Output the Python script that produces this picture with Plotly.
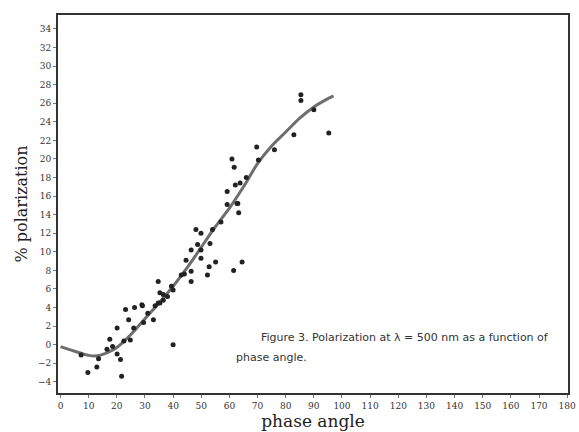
import plotly.graph_objects as go

# Observed polarization measurements (phase angle in deg, % polarization)
obs_angle = [7.3, 9.7, 12.9, 13.5, 16.5, 17.5, 20.1, 20.1, 21.3, 21.7, 22.5, 23.1, 24.2, 24.8,
             26.3, 29.1, 28.9, 29.5, 33.0, 33.6, 34.7, 34.7, 35.3, 35.3, 36.5, 36.5, 39.4, 40.0,
             40.0, 42.9, 44.6, 46.4, 46.4, 46.4, 48.1, 48.7, 49.9, 49.9, 49.9, 52.2, 52.8, 53.1,
             54.0, 55.1, 59.2, 59.2, 60.9, 61.5, 61.7, 62.1, 62.7, 63.0, 63.3, 63.8, 64.5, 69.7,
             70.3, 82.9, 85.4, 85.4, 95.3, 18.5, 26.0, 31.0, 38.0, 44.0, 57.0, 66.0, 76.0, 90.0]
obs_pol = [-1.1, -3.0, -2.4, -1.5, -0.5, 0.6, 1.8, -1.0, -1.6, -3.4, 0.4, 3.8, 2.7, 0.5,
           4.0, 4.2, 4.3, 2.4, 2.7, 4.2, 6.8, 4.5, 4.5, 5.6, 5.4, 4.8, 6.3, 0.0,
           5.9, 7.5, 9.1, 6.8, 7.9, 10.2, 12.4, 10.8, 9.3, 12.0, 10.2, 7.5, 8.4, 10.9,
           12.4, 8.9, 15.1, 16.5, 20.0, 8.0, 19.1, 17.2, 15.2, 15.2, 14.2, 17.4, 8.9, 21.3,
           19.9, 22.6, 26.9, 26.3, 22.8, -0.2, 1.8, 3.4, 5.2, 7.6, 13.2, 18.0, 21.0, 25.3]

# Fitted curve
fit_angle = [0, 5, 10, 13, 17, 20, 25, 30, 35, 40, 45, 50, 55, 60, 65, 70, 75, 80, 85, 90, 95, 97]
fit_pol = [-0.2, -0.7, -1.15, -1.2, -0.8, -0.3, 1.1, 2.8, 4.5, 6.3, 8.3, 10.5, 12.7, 14.7,
           17.0, 19.5, 21.4, 22.9, 24.4, 25.6, 26.5, 26.8]

x_ticks = list(range(0, 181, 10))
y_ticks = list(range(-4, 35, 2))

fig = go.Figure()
fig.add_trace(go.Scatter(x=fit_angle, y=fit_pol, mode="lines", line=dict(color="#555555", width=3, shape="spline"),
                         opacity=0.85, showlegend=False))
fig.add_trace(go.Scatter(x=obs_angle, y=obs_pol, mode="markers",
                         marker=dict(color="#222222", size=5, symbol="circle"), showlegend=False))

serif = "DejaVu Serif"
fig.update_layout(
    width=579, height=432,
    margin=dict(l=58, r=3, t=15, b=39),
    paper_bgcolor="white", plot_bgcolor="white",
    font=dict(family=serif, color="#222222"),
    xaxis=dict(range=[-0.9, 180.3], tickvals=x_ticks, ticks="outside", ticklen=3, tickcolor="#777",
               ticklabeloverflow="allow",
               showgrid=False, zeroline=False, showline=True, linecolor="#333", linewidth=2, mirror=True,
               tickfont=dict(size=9, family=serif, color="#333"),
               title=dict(text="phase angle", font=dict(size=17, family=serif, color="#222"), standoff=4)),
    yaxis=dict(range=[-5.2, 35.5], tickvals=y_ticks, ticks="outside", ticklen=3, tickcolor="#777",
               showgrid=False, zeroline=False, showline=True, linecolor="#333", linewidth=2, mirror=True,
               tickfont=dict(size=9, family=serif, color="#333"),
               title=dict(text="% polarization", font=dict(size=16, family=serif, color="#222"), standoff=6)),
)

fig.add_annotation(xref="paper", yref="paper", x=(262 - 58) / 518, y=(393 - 337) / 378, xanchor="left", yanchor="middle",
                   showarrow=False, text="Figure 3. Polarization at \u03bb = 500 nm as a function of",
                   font=dict(family="DejaVu Sans", size=11, color="#333"))
fig.add_annotation(xref="paper", yref="paper", x=(237 - 58) / 518, y=(393 - 357) / 378, xanchor="left", yanchor="middle",
                   showarrow=False, text="phase angle.",
                   font=dict(family="DejaVu Sans", size=11, color="#333"))

fig.write_html("out.html")
